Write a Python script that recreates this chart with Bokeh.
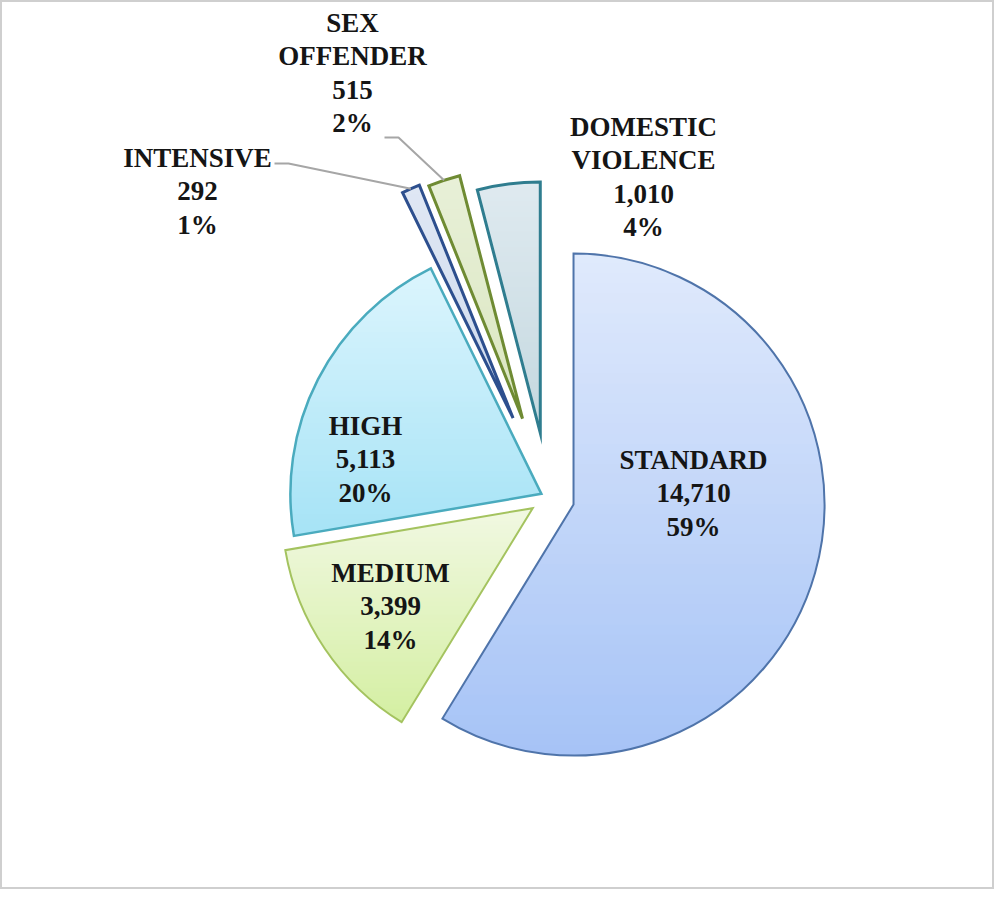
import math
from bokeh.plotting import figure
from bokeh.models import Range1d
from bokeh.core.properties import value
from bokeh.embed import file_html
from bokeh.resources import INLINE

# ---------------- data ----------------
categories = ["STANDARD", "MEDIUM", "HIGH", "INTENSIVE", "SEX OFFENDER", "DOMESTIC VIOLENCE"]
counts = [14710, 3399, 5113, 292, 515, 1010]

# ---------------- styles ----------------
fill_top = ["#e0eafc", "#f1f8e2", "#dcf5fd", "#dfe7f4", "#e8f0d8", "#dfeaf0"]
fill_bottom = ["#a6c3f6", "#d4efa2", "#a6e3f6", "#cfdbee", "#dae6c0", "#c4d8df"]
line_colors = ["#4f74aa", "#a4c35f", "#4aabbe", "#2d4f8e", "#6f8b33", "#2f7d8f"]
line_widths = [2, 2, 2.5, 3, 3, 3]
explode = [26, 19, 8, 87, 83, 65]          # explosion distance of each slice (px)
label_pos = [(693, 459), (390, 572), (365, 425), (197, 157), (352, 22), (643, 126)]  # first line (px)
leader_from = [None, None, None, (274, 163), (384, 137), None]
line_gap = 33.5
radius = 251
center_px = (548, 497)

W, H = 994, 889
PAGE_H = 897


def to_y(py):
    return PAGE_H - py


cx, cy = center_px[0], to_y(center_px[1])
total = float(sum(counts))

p = figure(width=W, height=H, output_backend="svg", toolbar_location=None,
           x_range=Range1d(0, W), y_range=Range1d(to_y(H), to_y(0)),
           min_border=0, background_fill_color="white", border_fill_color="white")
p.axis.visible = False
p.grid.visible = False
p.outline_line_color = "#cfcfcf"
p.outline_line_width = 3


def hex2rgb(h):
    h = h.lstrip("#")
    return tuple(int(h[i:i + 2], 16) for i in (0, 2, 4))


def mix(c1, c2, t):
    a, b = hex2rgb(c1), hex2rgb(c2)
    return "#%02x%02x%02x" % tuple(int(round(a[i] + (b[i] - a[i]) * t)) for i in range(3))


def clip(poly, yv, keep_above):
    out = []
    n = len(poly)
    for i in range(n):
        cur, prev = poly[i], poly[i - 1]
        cin = cur[1] >= yv if keep_above else cur[1] <= yv
        pin = prev[1] >= yv if keep_above else prev[1] <= yv
        if cin != pin:
            t = (yv - prev[1]) / (cur[1] - prev[1])
            out.append((prev[0] + t * (cur[0] - prev[0]), yv))
        if cin:
            out.append(cur)
    return out


acc = 0.0
for i, (cat, v) in enumerate(zip(categories, counts)):
    th0 = acc / total * 360.0
    acc += v
    th1 = acc / total * 360.0
    mid = math.radians((th0 + th1) / 2)
    ax = cx + explode[i] * math.sin(mid)
    ay = cy + explode[i] * math.cos(mid)
    a_start = math.radians(90 - th1)
    a_end = math.radians(90 - th0)

    # base wedge
    p.wedge(x=[ax], y=[ay], radius=radius, start_angle=a_start, end_angle=a_end,
            fill_color=mix(fill_top[i], fill_bottom[i], 0.5), line_color=None)

    # vertical gradient bands
    n = 160
    poly = [(ax, ay)] + [(ax + radius * math.cos(a_start + (a_end - a_start) * k / n),
                          ay + radius * math.sin(a_start + (a_end - a_start) * k / n)) for k in range(n + 1)]
    ymin = min(q[1] for q in poly)
    ymax = max(q[1] for q in poly)
    nb = 50
    hb = (ymax - ymin) / nb
    xs, ys, cols = [], [], []
    for k in range(nb):
        top = ymax - k * hb + 0.6
        bot = ymax - (k + 1) * hb - 0.6
        part = clip(clip(poly, bot, True), top, False)
        if len(part) >= 3:
            xs.append([q[0] for q in part])
            ys.append([q[1] for q in part])
            cols.append(mix(fill_top[i], fill_bottom[i], (k + 0.5) / nb))
    p.patches(xs, ys, fill_color=cols, line_color=None)

    # outline wedge
    p.wedge(x=[ax], y=[ay], radius=radius, start_angle=a_start, end_angle=a_end,
            fill_color=None, line_color=line_colors[i], line_width=line_widths[i],
            line_join="miter")

    # labels
    words = cat.split(" ")
    lines = words + ["{:,}".format(v), "{}%".format(int(round(100 * v / total)))]
    lx, ly = label_pos[i]
    p.text(x=[lx] * len(lines), y=[to_y(ly + j * line_gap) for j in range(len(lines))], text=lines,
           text_align="center", text_baseline="middle", text_font=value("Liberation Serif"),
           text_font_style="bold", text_font_size="27px", text_color="#151515")

    # leader lines
    if leader_from[i] is not None:
        ex = ax + radius * math.sin(mid)
        ey = ay + radius * math.cos(mid)
        sx, sy = leader_from[i]
        p.line(x=[sx, sx + 14, ex], y=[to_y(sy), to_y(sy), ey], line_color="#a6a6a6", line_width=2)

open("out.html", "w").write(file_html(p, INLINE))
